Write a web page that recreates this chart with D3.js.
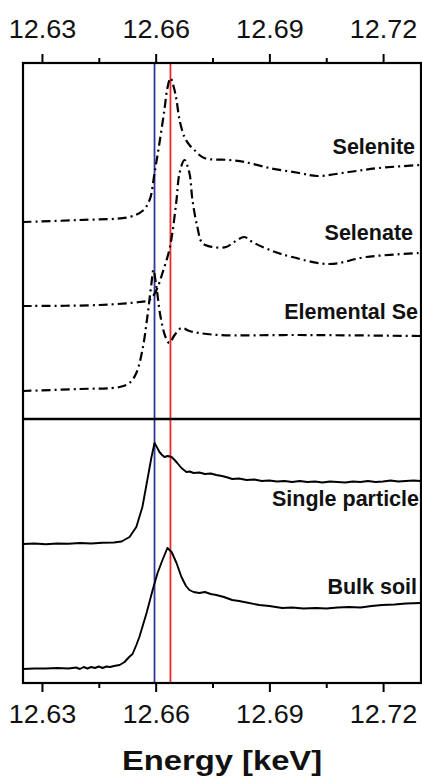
<!DOCTYPE html>
<html>
<head>
<meta charset="utf-8">
<script src="https://cdn.jsdelivr.net/npm/d3@7"></script>
<style>
  html, body { margin: 0; padding: 0; background: #fff; }
  svg { display: block; }
  text { font-family: "Liberation Sans", Arial, sans-serif; }
</style>
</head>
<body>
<svg id="chart" width="422" height="780"></svg>
<script>
// ---------------- DATA ----------------
const xTicks = [12.63, 12.66, 12.69, 12.72];
const xMinorTicks = [12.645, 12.675, 12.705];
const xLabel = "Energy [keV]";
const refLines = [
  { name: "Se(0)", energy: 12.6597, color: "#35359a" },
  { name: "Se(IV)", energy: 12.6639, color: "#ec2a2e" }
];

// normalized absorption, stacked with offsets (a.u.)
const seleniteE = [12.6249,12.6399,12.6531,12.6565,12.6584,12.6597,12.6610,12.6623,12.6631,12.6639,12.6647,12.6655,12.6663,12.6676,12.6689,12.6702,12.6728,12.6794,12.6834,12.6900,12.6979,12.7026,12.7110,12.7189,12.7299];
const seleniteMu = [46.1,46.3,46.6,47.2,48.3,51.0,54.0,57.3,59.5,60.5,59.7,58.3,56.3,54.6,53.8,53.3,52.5,52.3,52.1,51.5,51.0,50.7,51.1,51.5,51.8];

const selenateE = [12.6249,12.6452,12.6557,12.6584,12.6602,12.6618,12.6636,12.6644,12.6655,12.6663,12.6676,12.6689,12.6697,12.6710,12.6723,12.6750,12.6786,12.6807,12.6834,12.6855,12.6908,12.6960,12.7058,12.7155,12.7299];
const selenateMu = [37.7,37.8,38.1,38.3,39.3,41.0,43.3,45.0,48.3,51.0,52.3,51.0,48.3,45.6,44.0,43.6,43.6,44.1,44.6,44.1,43.2,42.6,41.9,42.6,43.0];

const elementalE = [12.6249,12.6399,12.6505,12.6531,12.6549,12.6565,12.6578,12.6589,12.6594,12.6602,12.6613,12.6626,12.6636,12.6650,12.6668,12.6689,12.6715,12.6768,12.6979,12.7299];
const elementalMu = [29.2,29.4,29.6,30.0,31.0,33.3,36.6,40.0,41.3,39.6,36.6,34.6,34.0,34.8,35.5,35.2,35.0,34.8,34.8,34.7];

const particleE = [12.625,12.628,12.631,12.634,12.637,12.640,12.643,12.646,12.649,12.651,12.6531,12.6549,12.6565,12.6578,12.6589,12.6597,12.6603,12.6610,12.6617,12.6623,12.6632,12.6642,12.6650,12.6657,12.6668,12.6681,12.669,12.670,12.6715,12.673,12.6745,12.676,12.6775,12.679,12.6802,12.682,12.684,12.686,12.688,12.690,12.692,12.694,12.696,12.698,12.700,12.702,12.704,12.706,12.708,12.710,12.712,12.714,12.716,12.718,12.720,12.722,12.724,12.726,12.728,12.7299];
const particleMu = [13.9,13.95,13.88,13.95,13.92,14.0,13.95,14.02,14.05,14.15,14.6,15.6,17.6,20.3,22.6,24.0,23.6,23.1,22.8,22.6,22.7,22.6,22.3,22.0,21.5,21.1,21.15,21.0,21.05,20.9,20.95,20.8,20.7,20.55,20.4,20.45,20.3,20.35,20.2,20.25,20.15,20.2,20.1,20.2,20.1,20.15,20.05,20.15,20.1,20.05,20.15,20.1,20.2,20.1,20.15,20.25,20.15,20.2,20.25,20.2];

const bulkE = [12.625,12.628,12.631,12.634,12.637,12.639,12.640,12.641,12.642,12.643,12.644,12.645,12.646,12.647,12.648,12.649,12.6505,12.6518,12.6530,12.6539,12.6549,12.6557,12.6576,12.6592,12.6605,12.6618,12.6631,12.6642,12.6655,12.6668,12.6680,12.6689,12.670,12.6715,12.673,12.6745,12.676,12.678,12.6802,12.682,12.684,12.6873,12.690,12.6934,12.696,12.699,12.7023,12.705,12.708,12.711,12.714,12.717,12.7197,12.723,12.726,12.7299];
const bulkMu = [1.4,1.45,1.45,1.5,1.45,1.55,1.4,1.6,1.45,1.6,1.5,1.65,1.5,1.65,1.6,1.7,1.8,2.1,2.6,2.9,3.8,4.6,7.0,9.3,11.0,12.3,13.5,13.1,12.0,10.6,9.7,9.3,9.1,9.0,9.1,8.9,8.8,8.6,8.3,8.2,8.05,7.8,7.7,7.5,7.55,7.45,7.5,7.45,7.55,7.6,7.55,7.7,7.8,7.85,7.95,8.0];

const seriesNames = ["Selenite", "Selenate", "Elemental Se", "Single particle", "Bulk soil"];
const panelDivider = 26.4; // a.u. boundary between reference and sample panels

// ---------------- LAYOUT / STYLE ----------------
const series = [
  { name: seriesNames[0], e: seleniteE, mu: seleniteMu, dash: "9,4,2,4", smooth: true },
  { name: seriesNames[1], e: selenateE, mu: selenateMu, dash: "9,4,2,4", smooth: true },
  { name: seriesNames[2], e: elementalE, mu: elementalMu, dash: "9,4,2,4", smooth: true },
  { name: seriesNames[3], e: particleE, mu: particleMu, dash: null, smooth: false },
  { name: seriesNames[4], e: bulkE, mu: bulkMu, dash: null, smooth: false }
];
const labelPos = {
  "Selenite": [415, 154],
  "Selenate": [413, 240],
  "Elemental Se": [418, 319],
  "Single particle": [419, 506],
  "Bulk soil": [417, 594]
};

const L = 23, R = 421, T = 63, B = 683;
const svg = d3.select("#chart");
svg.append("rect").attr("width", 422).attr("height", 780).attr("fill", "#fff");

const x = d3.scaleLinear().domain([12.625, 12.73]).range([L, R]);
const y = d3.scaleLinear().domain([0, 62]).range([B, T]);

svg.append("defs").append("clipPath").attr("id", "clip")
  .append("rect").attr("x", L).attr("y", T).attr("width", R - L).attr("height", B - T);

// reference lines
svg.append("g").selectAll("line").data(refLines).join("line")
  .attr("x1", d => x(d.energy)).attr("x2", d => x(d.energy))
  .attr("y1", T).attr("y2", B)
  .attr("stroke", d => d.color).attr("stroke-width", 1.8);

// curves
const plot = svg.append("g").attr("clip-path", "url(#clip)");
series.forEach(s => {
  const pts = s.e.map((e, i) => [e, s.mu[i]]);
  const line = d3.line().x(d => x(d[0])).y(d => y(d[1]))
    .curve(s.smooth ? d3.curveCatmullRom.alpha(0.5) : d3.curveLinear);
  plot.append("path").attr("d", line(pts))
    .attr("fill", "none").attr("stroke", "#000")
    .attr("stroke-width", s.smooth ? 2.2 : 1.9)
    .attr("stroke-linejoin", "round")
    .attr("stroke-dasharray", s.dash);
});

// labels
svg.append("g").selectAll("text").data(series).join("text")
  .attr("x", d => labelPos[d.name][0]).attr("y", d => labelPos[d.name][1])
  .attr("text-anchor", "end").attr("font-weight", "bold").attr("font-size", 21.5)
  .attr("fill", "#111")
  .text(d => d.name);

// frame + divider
svg.append("rect").attr("x", L).attr("y", T).attr("width", R - L).attr("height", B - T)
  .attr("fill", "none").attr("stroke", "#000").attr("stroke-width", 2.2);
svg.append("line").attr("x1", L).attr("x2", R)
  .attr("y1", y(panelDivider)).attr("y2", y(panelDivider))
  .attr("stroke", "#000").attr("stroke-width", 2.4);

// axes
function styleAxis(g) {
  g.select(".domain").remove();
  g.selectAll(".tick line").attr("stroke", "#000").attr("stroke-width", 2);
  g.selectAll(".tick text").attr("font-size", 25).attr("fill", "#111")
    .attr("font-family", "'Liberation Sans', Arial, sans-serif")
    .attr("transform", "scale(1.08,1)");
}
const fmt = d3.format(".2f");
svg.append("g").attr("transform", `translate(0,${T})`)
  .call(d3.axisTop(x).tickValues(xTicks).tickFormat(fmt).tickSize(9).tickPadding(16))
  .call(styleAxis);
svg.append("g").attr("transform", `translate(0,${B})`)
  .call(d3.axisBottom(x).tickValues(xTicks).tickFormat(fmt).tickSize(9).tickPadding(13))
  .call(styleAxis);
svg.append("g").attr("transform", `translate(0,${T})`)
  .call(d3.axisTop(x).tickValues(xMinorTicks).tickFormat("").tickSize(5))
  .call(styleAxis);
svg.append("g").attr("transform", `translate(0,${B})`)
  .call(d3.axisBottom(x).tickValues(xMinorTicks).tickFormat("").tickSize(5))
  .call(styleAxis);

// axis title
svg.append("text").attr("transform", "translate(222,770) scale(1.17,1)")
  .attr("text-anchor", "middle").attr("font-weight", "bold").attr("font-size", 28)
  .attr("fill", "#111").text(xLabel);
</script>
</body>
</html>
